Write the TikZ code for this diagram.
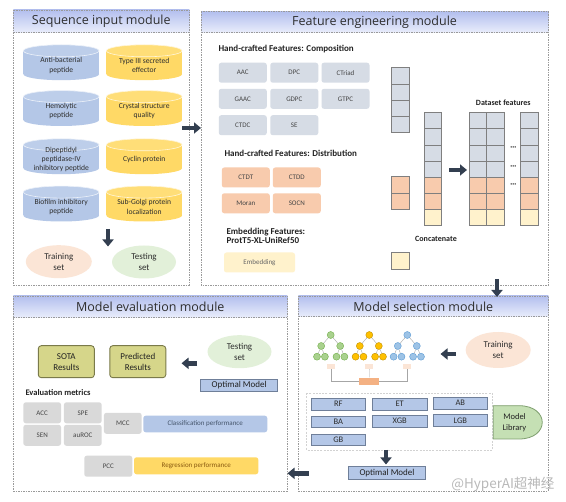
\documentclass[tikz,border=0pt]{standalone}
\usepackage{fontspec}
\setmainfont{Carlito}
\newfontfamily\titlefont{Open Sans}
\newfontfamily\cjkfont{Noto Sans CJK SC}
\usetikzlibrary{shapes.geometric,arrows.meta}
\definecolor{hdtop}{HTML}{B3BFEE}
\definecolor{hdbot}{HTML}{E9EDFB}
\definecolor{pgray}{HTML}{9A9A9A}
\definecolor{cylblue}{HTML}{B4C7E7}
\definecolor{cylyel}{HTML}{FFD966}
\definecolor{fgray}{HTML}{D6DCE5}
\definecolor{fpeach}{HTML}{F8CBAD}
\definecolor{fyel}{HTML}{FFF2CC}
\definecolor{arrowc}{HTML}{333F50}
\definecolor{elpeach}{HTML}{FBE5D6}
\definecolor{elgreen}{HTML}{E2F0D9}
\definecolor{olive}{HTML}{D6D68A}
\definecolor{oliveb}{HTML}{7A7A4A}
\definecolor{mgray}{HTML}{D9D9D9}
\definecolor{lblue}{HTML}{B4C7E7}
\definecolor{mborder}{HTML}{6F7F99}
\definecolor{libgreen}{HTML}{C5E0B4}
\definecolor{libborder}{HTML}{7F9F6F}
\definecolor{cellborder}{HTML}{7F7F7F}
\definecolor{txtdark}{HTML}{2E2E2E}
\definecolor{txtbold}{HTML}{222222}
\definecolor{txtlight}{HTML}{454545}
\definecolor{clstxt}{HTML}{44546A}
\definecolor{regtxt}{HTML}{8A5A10}
\definecolor{treeg}{HTML}{A9D18E}
\definecolor{treegd}{HTML}{70AD47}
\definecolor{treey}{HTML}{FFC000}
\definecolor{treeyd}{HTML}{BF9000}
\definecolor{treeb}{HTML}{9DC3E6}
\definecolor{treebd}{HTML}{5B9BD5}
\definecolor{votec}{HTML}{F4B183}
\newcommand\mycyl[5]{%
  \fill[#3] (#1-37.8,#2-11.7) rectangle (#1+37.8,#2+11.7);
  \fill[#3] (#1,#2+11.7) ellipse[x radius=37.8,y radius=6];
  \fill[#3!88!white] (#1,#2-11.7) ellipse[x radius=37.8,y radius=6];
  \draw[white!75!#3, line width=.6pt] (#1,#2-11.7) ellipse[x radius=37.8,y radius=6];
  \node[cyltext] (#4) at (#1,#2+3) {#5};
}
\newcommand\mypanel[5]{%
  \fill[white] (#1,#2) rectangle (#3,#4);
  \shade[top color=hdtop, bottom color=hdbot] (#1,#2) rectangle (#3,#5);
  \draw[panelborder] (#1,#5) -- (#3,#5);
  \draw[panelborder] (#1,#2) rectangle (#3,#4);
}
\begin{document}
\begin{tikzpicture}[x=1pt,y=-1pt,
  panelborder/.style={draw=pgray, line width=0.6pt, dash pattern=on 1.5pt off 1pt},
  ttl/.style={font=\titlefont\fontsize{12.5}{14}\selectfont, text=txtdark},
  cyltext/.style={font=\fontsize{7.6}{9.2}\selectfont, align=center, text=txtdark},
  hd/.style={font=\bfseries\fontsize{9}{9.7}\selectfont, text=txtbold, anchor=west, align=left},
  fbox/.style={rounded corners=2.5pt, inner sep=0pt, minimum width=48pt, minimum height=20pt, font=\fontsize{7}{8}\selectfont, text=txtlight},
  cell/.style={draw=cellborder, line width=0.6pt},
  bigarrow/.style={draw=arrowc, line width=4.5pt, -{Triangle[length=7pt,width=11pt]}},
  setel/.style={ellipse, inner sep=0pt, minimum width=65pt, minimum height=34pt, align=center, font=\fontsize{9}{11}\selectfont, text=txtdark},
  resbox/.style={draw=oliveb, fill=olive, line width=0.9pt, rounded corners=3pt, minimum width=56pt, minimum height=32pt, inner sep=0pt, align=center, font=\fontsize{9}{11}\selectfont, text=txtbold},
  optbox/.style={draw=mborder, fill=lblue, line width=0.8pt, minimum width=77pt, minimum height=12.5pt, inner sep=0pt, font=\fontsize{9}{10}\selectfont, text=txtbold},
  mbox/.style={draw=mborder, fill=lblue, line width=0.8pt, minimum width=54.7pt, minimum height=11.7pt, inner sep=0pt, font=\fontsize{8.5}{10}\selectfont, text=txtdark},
  metric/.style={fill=mgray, rounded corners=2.5pt, minimum width=37.7pt, minimum height=21pt, inner sep=0pt, font=\fontsize{7}{8}\selectfont, text=txtlight},
  perf/.style={rounded corners=2.5pt, minimum width=124pt, minimum height=16.6pt, inner sep=0pt, font=\fontsize{7}{8}\selectfont},
  tnode/.style={circle, inner sep=0pt, minimum size=7pt, line width=0.4pt},
  tedge/.style={draw=gray!70, line width=0.4pt},
  tlab/.style={fill=elpeach, inner sep=0pt, minimum width=8pt, minimum height=4.5pt},
]
\useasboundingbox (0,0) rectangle (566,502);
\fill[white] (0,0) rectangle (566,502);

% ---------------- panels
\mypanel{13.3}{10}{189.3}{285}{32.3}
\mypanel{201}{11.7}{548.3}{285}{32.3}
\mypanel{13.3}{296}{287.3}{491}{317.3}
\mypanel{298.3}{296}{548.3}{491}{316.7}
\node[ttl] (tseq) at (101.3,21.3) {Sequence input module};
\node[ttl] (tfeat) at (374.6,22.2) {Feature engineering module};
\node[ttl] (teval) at (150.3,306.7) {Model evaluation module};
\node[ttl] (tsel) at (423.3,306.4) {Model selection module};

% ---------------- sequence input
\mycyl{61.2}{62.5}{cylblue}{c1}{Anti-bacterial\\peptide}
\mycyl{144.2}{62.5}{cylyel}{c2}{Type III secreted\\effector}
\mycyl{61.2}{108.3}{cylblue}{c3}{Hemolytic\\peptide}
\mycyl{144.2}{108.3}{cylyel}{c4}{Crystal structure\\quality}
\mycyl{61.2}{156.5}{cylblue}{c5}{Dipeptidyl\\peptidase-IV\\inhibitory peptide}
\mycyl{144.2}{156.5}{cylyel}{c6}{Cyclin protein}
\mycyl{61.2}{203.8}{cylblue}{c7}{Biofilm inhibitory\\peptide}
\mycyl{144.2}{203.8}{cylyel}{c8}{Sub-Golgi protein\\localization}
\coordinate (a1s) at (108,229);
\coordinate (a1e) at (108,246.5);
\draw[bigarrow] (a1s) -- (a1e);
\node[setel, fill=elpeach, minimum width=66pt, minimum height=33pt] (train1) at (58.8,261.7) {Training\\set};
\node[setel, fill=elgreen, minimum width=64pt, minimum height=33pt] (test1) at (144,262) {Testing\\set};
\coordinate (a2s) at (182,128);
\coordinate (a2e) at (201,128);
\draw[bigarrow] (a2s) -- (a2e);

% ---------------- feature engineering
\node[hd] (hcomp) at (215,49.3) {Hand-crafted Features: Composition};
\node[fbox, fill=fgray] (aac) at (242.8,72.7) {AAC};
\node[fbox, fill=fgray] (dpc) at (294.3,72.7) {DPC};
\node[fbox, fill=fgray] (ctriad) at (345.5,72.7) {CTriad};
\node[fbox, fill=fgray] (gaac) at (242.8,98.8) {GAAC};
\node[fbox, fill=fgray] (gdpc) at (294.3,98.8) {GDPC};
\node[fbox, fill=fgray] (gtpc) at (345.5,98.8) {GTPC};
\node[fbox, fill=fgray] (ctdc) at (242.8,125.2) {CTDC};
\node[fbox, fill=fgray] (se) at (294.3,125.2) {SE};
\node[hd] (hdist) at (221,153.3) {Hand-crafted Features: Distribution};
\node[fbox, fill=fpeach] (ctdt) at (245.8,177.5) {CTDT};
\node[fbox, fill=fpeach] (ctdd) at (296.8,177.5) {CTDD};
\node[fbox, fill=fpeach] (moran) at (245.8,203.3) {Moran};
\node[fbox, fill=fpeach] (socn) at (296.8,203.3) {SOCN};
\node[hd] (hemb) at (223,235.9) {Embedding Features:\\ProtT5-XL-UniRef50};
\node[fbox, fill=fyel, minimum width=71pt, text=gray!80!black] (emb) at (259.5,262.5) {Embedding};

% vectors
\foreach \i in {0,...,3} {\filldraw[cell, fill=fgray] (391.7,67.7+16.15*\i) rectangle (409,67.7+16.15*\i+16.15);}
\foreach \i in {0,1} {\filldraw[cell, fill=fpeach] (391.7,176.7+16.3*\i) rectangle (409,176.7+16.3*\i+16.3);}
\filldraw[cell, fill=fyel] (391.7,252) rectangle (409,269.3);
% concatenated and dataset columns
\foreach \xa/\xb in {424/441.7, 469.3/486.7, 486.7/504, 520.7/538} {
  \foreach \i in {0,...,3} {\filldraw[cell, fill=fgray] (\xa,112.7+16.09*\i) rectangle (\xb,112.7+16.09*\i+16.09);}
  \foreach \i in {4,5} {\filldraw[cell, fill=fpeach] (\xa,112.7+16.09*\i) rectangle (\xb,112.7+16.09*\i+16.09);}
  \filldraw[cell, fill=fyel] (\xa,112.7+16.09*6) rectangle (\xb,225.3);
}
\node[font=\bfseries\fontsize{7.5}{9}\selectfont, text=txtdark] (d1) at (513.3,148.5) {···};
\node[font=\bfseries\fontsize{7.5}{9}\selectfont, text=txtdark] (d2) at (513.3,166.9) {···};
\node[font=\bfseries\fontsize{7.5}{9}\selectfont, text=txtdark] (d3) at (513.3,184.9) {···};
\node[font=\bfseries\fontsize{8}{9}\selectfont, text=txtbold] (dsf) at (503.3,102.7) {Dataset features};
\node[font=\bfseries\fontsize{8}{9}\selectfont, text=txtbold] (concat) at (436,238.7) {Concatenate};
\coordinate (a3s) at (449,170);
\coordinate (a3e) at (467,170);
\draw[bigarrow] (a3s) -- (a3e);
\coordinate (a4s) at (497,279);
\coordinate (a4e) at (497,297);
\draw[bigarrow] (a4s) -- (a4e);

% ---------------- model selection
\foreach \cx/\col/\dcol/\n in {330.7/treeg/treegd/1, 369.3/treey/treeyd/2, 407.3/treeb/treebd/3} {
  \node[tnode, fill=\col, draw=\dcol] (r\n) at (\cx,335) {};
  \node[tnode, fill=\col, draw=\dcol] (p\n) at (\cx-9.5,346) {};
  \node[tnode, fill=\col, draw=\dcol] (q\n) at (\cx+9.5,346) {};
  \node[tnode, fill=\col, draw=\dcol] (pa\n) at (\cx-13.7,356.7) {};
  \node[tnode, fill=\col, draw=\dcol] (pb\n) at (\cx-5.8,356.7) {};
  \node[tnode, fill=\col, draw=\dcol] (qa\n) at (\cx+5.8,356.7) {};
  \node[tnode, fill=\col, draw=\dcol] (qb\n) at (\cx+13.7,356.7) {};
  \draw[tedge] (r\n) -- (p\n);
  \draw[tedge] (r\n) -- (q\n);
  \draw[tedge] (p\n) -- (pa\n);
  \draw[tedge] (p\n) -- (pb\n);
  \draw[tedge] (q\n) -- (qa\n);
  \draw[tedge] (q\n) -- (qb\n);
  \node[tlab] (t\n) at (\cx,366.7) {};
}
\node[fill=votec, inner sep=0pt, minimum width=19.7pt, minimum height=7.3pt] (vote) at (369.2,381.3) {};
\draw[tedge] (t1.south) |- (vote.west);
\draw[tedge] (t3.south) |- (vote.east);
\draw[tedge] (t2.south) -- (vote.north);
\node[setel, fill=elpeach, minimum width=65pt, minimum height=36pt] (train2) at (498.2,350) {Training\\set};
\coordinate (a5s) at (455.5,354);
\coordinate (a5e) at (440.5,354);
\draw[bigarrow] (a5s) -- (a5e);
\draw[draw=gray!35, line width=0.6pt, dash pattern=on 2pt off 1.2pt] (306.7,393.3) rectangle (492.3,450);
\node[mbox] (rf) at (338.3,404.2) {RF};
\node[mbox] (et) at (399.7,404.2) {ET};
\node[mbox] (ab) at (460.3,403.2) {AB};
\node[mbox] (ba) at (338.3,421.8) {BA};
\node[mbox] (xgb) at (399.7,421.2) {XGB};
\node[mbox] (lgb) at (460.3,420.3) {LGB};
\node[mbox] (gb) at (338.3,439.8) {GB};
\filldraw[fill=libgreen, draw=libborder, line width=0.8pt] (493.3,405.7) -- (519,405.7) .. controls (550,405.7) and (550,439) .. (519,439) -- (493.3,439) -- cycle;
\node[align=center, font=\fontsize{8.5}{11}\selectfont, text=txtbold] (lib) at (514.5,422.3) {Model\\Library};
\coordinate (a6s) at (386,450);
\coordinate (a6e) at (386,464.5);
\draw[bigarrow] (a6s) -- (a6e);
\node[optbox] (opt2) at (387,473) {Optimal Model};
\coordinate (a7s) at (308.5,473.3);
\coordinate (a7e) at (287.5,473.3);
\draw[bigarrow] (a7s) -- (a7e);

% ---------------- model evaluation
\node[resbox] (sota) at (66.3,361.7) {SOTA\\Results};
\node[resbox] (pred) at (137.8,361.7) {Predicted\\Results};
\node[setel, fill=elgreen, minimum width=64pt, minimum height=33pt] (test2) at (239.5,351.7) {Testing\\set};
\node[optbox] (opt1) at (239.2,385.5) {Optimal Model};
\coordinate (a8s) at (197,363.3);
\coordinate (a8e) at (181.5,363.3);
\draw[bigarrow] (a8s) -- (a8e);
\node[hd, font=\bfseries\fontsize{8.5}{10}\selectfont] (evm) at (22,392.3) {Evaluation metrics};
\node[metric] (acc) at (42.2,412.8) {ACC};
\node[metric] (spe) at (82.8,412.8) {SPE};
\node[metric] (sen) at (42.2,435.3) {SEN};
\node[metric] (auroc) at (82.8,435.3) {auROC};
\node[metric] (mcc) at (122.8,423.3) {MCC};
\node[perf, fill=lblue, text=clstxt] (clsp) at (205.3,424) {Classification performance};
\node[metric, minimum width=48pt] (pcc) at (108.3,466.2) {PCC};
\node[perf, fill=cylyel, minimum width=124.3pt, minimum height=17pt, text=regtxt] (regp) at (196.2,465.8) {Regression performance};

% watermark
\node[font=\cjkfont\fontsize{13.5}{15}\selectfont, text=gray!55, anchor=east] (wm) at (558,484.5) {@HyperAI超神经};
\end{tikzpicture}
\end{document}
